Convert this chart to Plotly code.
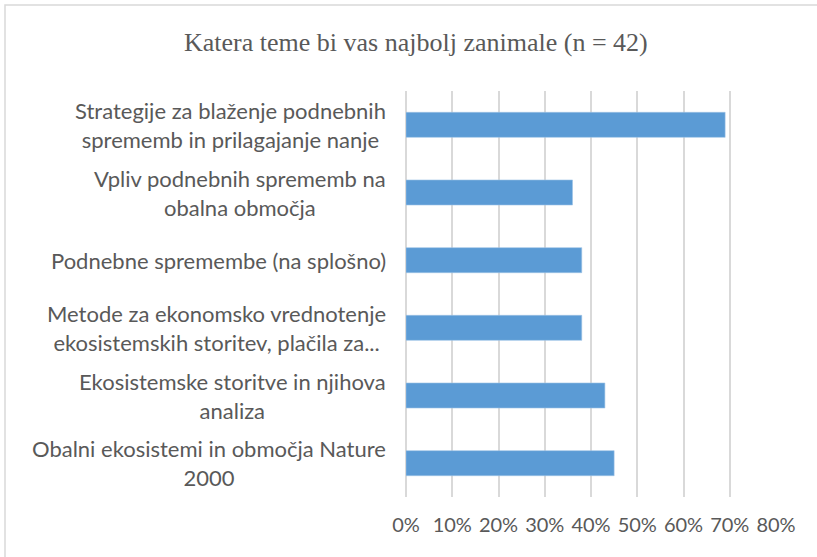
import plotly.graph_objects as go

categories = [
    "Strategije za blaženje podnebnih<br>sprememb in prilagajanje nanje",
    "Vpliv podnebnih sprememb na<br>obalna območja",
    "Podnebne spremembe (na splošno)",
    "Metode za ekonomsko vrednotenje<br>ekosistemskih storitev, plačila za...",
    "Ekosistemske storitve in njihova<br>analiza",
    "Obalni ekosistemi in območja Nature<br>2000",
]
values = [0.69, 0.36, 0.38, 0.38, 0.43, 0.45]
tick_vals = [0, 0.1, 0.2, 0.3, 0.4, 0.5, 0.6, 0.7, 0.8]
tick_text = ["0%", "10%", "20%", "30%", "40%", "50%", "60%", "70%", "80%"]
title_text = "Katera teme bi vas najbolj zanimale (n = 42)"

W, H = 817, 557
L, R, T, B = 406, 41, 91, 60
pw, ph = W - L - R, H - T - B

fig = go.Figure(go.Bar(
    x=values, y=categories, orientation="h",
    marker=dict(color="#5B9BD5", line=dict(color="#9DC3E6", width=0.6)),
    width=0.37,
))

annotations = []
for c in categories:
    annotations.append(dict(
        x=0, xref="paper", y=c, yref="y", text=c, showarrow=False,
        xanchor="right", yanchor="middle", align="center", xshift=-18,
        font=dict(family="Lato", size=22, color="#595959"),
    ))
annotations.append(dict(
    x=(416 - L) / pw, xref="paper", y=(H - B - 43) / ph, yref="paper",
    text=title_text, showarrow=False, xanchor="center", yanchor="middle",
    font=dict(family="Liberation Serif", size=26, color="#595959"),
))

fig.update_layout(
    width=W, height=H,
    margin=dict(l=L, r=R, t=T, b=B),
    paper_bgcolor="white", plot_bgcolor="white",
    showlegend=False,
    annotations=annotations,
    xaxis=dict(
        range=[0, 0.8], tickvals=tick_vals, ticktext=tick_text,
        showgrid=True, gridcolor="#d9d9d9", gridwidth=1.5,
        zeroline=True, zerolinecolor="#d9d9d9", zerolinewidth=1.5,
        showline=False, ticks="", ticklabelstandoff=14,
        tickfont=dict(family="Lato", size=20, color="#595959"),
        fixedrange=True,
    ),
    yaxis=dict(
        autorange="reversed", showticklabels=False, showgrid=False,
        zeroline=False, showline=False, ticks="",
    ),
    shapes=[dict(
        type="rect", xref="paper", yref="paper",
        x0=(5 - L) / pw, x1=(W + 5 - L) / pw,
        y0=(H - B - (H + 5)) / ph, y1=(H - B - 5) / ph,
        line=dict(color="#d9d9d9", width=1.5), fillcolor="rgba(0,0,0,0)",
        layer="below",
    )],
)

fig.write_html(
    "out.html",
    config={"displayModeBar": False},
    post_script="document.body.style.margin='0';",
)
